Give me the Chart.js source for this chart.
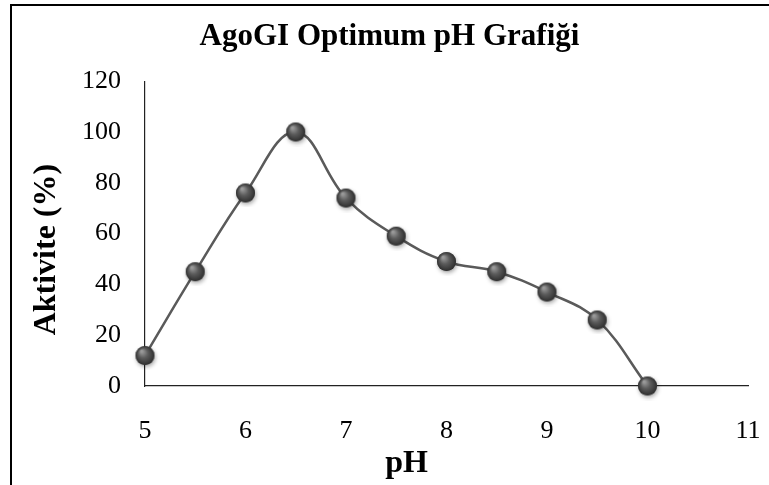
<!DOCTYPE html>
<html>
<head>
<meta charset="utf-8">
<script src="https://cdn.jsdelivr.net/npm/chart.js@4/dist/chart.umd.min.js"></script>
<style>
  html, body { margin: 0; padding: 0; background: #fff; overflow: hidden; }
  #wrap { position: relative; width: 769px; height: 485px; }
  #frame { position: absolute; left: 10px; top: 4px; width: 900px; height: 700px;
           border: 2px solid #000; pointer-events: none; box-sizing: border-box; }
  canvas { position: absolute; left: 0; top: 0; }
</style>
</head>
<body>
<div id="wrap">
  <canvas id="c" width="769" height="485"></canvas>
  <div id="frame"></div>
</div>
<script>
const phValues = [5, 5.5, 6, 6.5, 7, 7.5, 8, 8.5, 9, 9.5, 10];
const activity = [12, 45, 76, 100, 74, 59, 49, 45, 37, 26, 0];
const xTicks = [5, 6, 7, 8, 9, 10, 11];
const yTicks = [0, 20, 40, 60, 80, 100, 120];
const chartTitle = 'AgoGI Optimum pH Grafiği';
const xTitle = 'pH';
const yTitle = 'Aktivite (%)';

// sphere marker image
function makeSphere(r) {
  const size = Math.ceil(r * 2 + 10);
  const cv = document.createElement('canvas');
  cv.width = size; cv.height = size;
  const g = cv.getContext('2d');
  const c = size / 2;
  g.save();
  g.shadowColor = 'rgba(0,0,0,0.35)';
  g.shadowBlur = 4;
  g.shadowOffsetX = 1;
  g.shadowOffsetY = 2;
  g.beginPath();
  g.arc(c, c, r, 0, Math.PI * 2);
  g.fillStyle = '#4a4a4a';
  g.fill();
  g.restore();
  const grad = g.createRadialGradient(c - r * 0.35, c - r * 0.45, r * 0.1, c, c, r);
  grad.addColorStop(0, '#9a9a9a');
  grad.addColorStop(0.45, '#5c5c5c');
  grad.addColorStop(1, '#2e2e2e');
  g.beginPath();
  g.arc(c, c, r, 0, Math.PI * 2);
  g.fillStyle = grad;
  g.fill();
  return cv;
}
const sphere = makeSphere(9.5);

const fontFam = '"Liberation Serif", "Times New Roman", serif';

new Chart(document.getElementById('c'), {
  type: 'line',
  data: {
    datasets: [{
      data: phValues.map((x, i) => ({ x: x, y: activity[i] })),
      borderColor: '#5a5a5a',
      borderWidth: 2.5,
      tension: 0.4,
      pointStyle: sphere,
      pointRadius: 10,
      pointHoverRadius: 10,
      clip: false
    }]
  },
  options: {
    responsive: false,
    animation: false,
    layout: { padding: { left: 0, right: 21, top: 0, bottom: 0 } },
    plugins: {
      legend: { display: false },
      tooltip: { enabled: false },
      title: {
        display: true,
        text: '\u00a0\u00a0\u00a0\u00a0' + chartTitle,
        color: '#000',
        font: { family: fontFam, size: 31, weight: 'bold' },
        padding: { top: 18, bottom: 26 }
      }
    },
    scales: {
      x: {
        type: 'linear',
        min: 5, max: 11,
        afterBuildTicks: s => { s.ticks = xTicks.map(v => ({ value: v })); },
        afterFit: s => { s.height = 99; s.paddingRight = 0; s.paddingLeft = 0; },
        grid: { display: false, drawTicks: false },
        border: { display: true, color: '#222', width: 1.2 },
        ticks: { color: '#000', font: { family: fontFam, size: 26 }, padding: 30, maxRotation: 0 },
        title: {
          display: true,
          text: xTitle + '\u00a0'.repeat(10),
          color: '#000',
          font: { family: fontFam, size: 32, weight: 'bold' },
          padding: { top: 0, bottom: 2 }
        }
      },
      y: {
        min: 0, max: 120,
        afterBuildTicks: s => { s.ticks = yTicks.map(v => ({ value: v })); },
        afterFit: s => { s.width = 145; },
        grid: { display: false, drawTicks: false },
        border: { display: true, color: '#222', width: 1.2 },
        ticks: { color: '#000', font: { family: fontFam, size: 26 }, padding: 24 },
        title: {
          display: true,
          text: yTitle + '\u00a0'.repeat(4),
          color: '#000',
          font: { family: fontFam, size: 32, weight: 'bold' },
          padding: { top: 28, bottom: 0 }
        }
      }
    }
  }
});
</script>
</body>
</html>
